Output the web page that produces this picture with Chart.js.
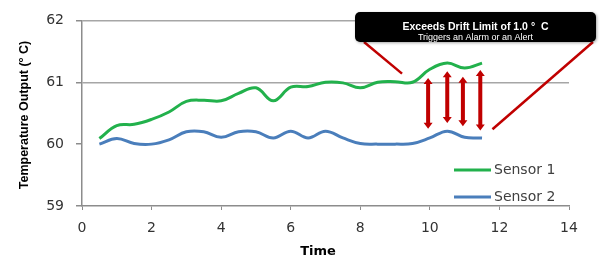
<!DOCTYPE html>
<html><head><meta charset="utf-8">
<script src="https://cdn.jsdelivr.net/npm/chart.js@4/dist/chart.umd.min.js"></script>
<style>html,body{margin:0;padding:0;background:#fff;}#wrap{width:600px;height:269px;position:relative;}</style>
</head><body><div id="wrap"><canvas id="c" width="600" height="269"></canvas></div>
<script>
// ---- data ----
const times   = [0.5,1,1.5,2,2.5,3,3.5,4,4.5,5,5.5,6,6.5,7,7.5,8,8.5,9,9.5,10,10.5,11,11.5];
const sensor1 = [60.09,60.30,60.32,60.40,60.52,60.69,60.71,60.70,60.82,60.91,60.70,60.92,60.93,61.00,60.99,60.91,61.00,61.01,61.00,61.21,61.31,61.23,61.31];
const sensor2 = [60.00,60.09,60.01,60.00,60.07,60.20,60.20,60.11,60.20,60.20,60.10,60.21,60.10,60.21,60.10,60.01,60.00,60.00,60.01,60.10,60.21,60.11,60.10];
const seriesNames = ['Sensor 1','Sensor 2'];
const xTicks = [0,2,4,6,8,10,12,14];
const yTicks = [59,60,61,62];
const yGridValues = [61,62];
const arrowTimes   = [9.95,10.5,10.95,11.45];
const arrowTops    = [61.07,61.18,61.09,61.20];
const arrowBottoms = [60.25,60.34,60.29,60.22];
const leaderEnds = [[9.2,61.14],[11.8,60.24]];
const calloutTitle = 'Exceeds Drift Limit of 1.0 °  C';
const calloutSubtitle = 'Triggers an Alarm or an Alert';
const xTitle = 'Time';
const yTitle = 'Temperature Output (° C)';

const colors = ['#22b14c','#4a7ebb'];
const RED = '#c00000';
const AXIS = '#8c8c8c';

function pts(vals){ return times.map((t,i)=>({x:t,y:vals[i]})); }

function arrow(ctx,x,y1,y2){
  const hw=4.5, hh=6, sw=2;
  ctx.beginPath();
  ctx.moveTo(x,y1); ctx.lineTo(x+hw,y1+hh); ctx.lineTo(x+sw,y1+hh);
  ctx.lineTo(x+sw,y2-hh); ctx.lineTo(x+hw,y2-hh); ctx.lineTo(x,y2);
  ctx.lineTo(x-hw,y2-hh); ctx.lineTo(x-sw,y2-hh); ctx.lineTo(x-sw,y1+hh);
  ctx.lineTo(x-hw,y1+hh); ctx.closePath(); ctx.fill();
}

const overlay = {
  id:'overlay',
  afterDatasetsDraw(chart){
    const ctx = chart.ctx, xs = chart.scales.x, ys = chart.scales.y;
    ctx.save();
    // arrows
    ctx.fillStyle = RED;
    arrowTimes.forEach((t,i)=>arrow(ctx, xs.getPixelForValue(t), ys.getPixelForValue(arrowTops[i]), ys.getPixelForValue(arrowBottoms[i])));
    // leader lines
    const box = {x:355, y:12, w:241, h:30};
    ctx.strokeStyle = RED; ctx.lineWidth = 2.5;
    const starts = [[box.x+9, box.y+box.h],[box.x+box.w-3, box.y+box.h]];
    leaderEnds.forEach((e,i)=>{
      ctx.beginPath(); ctx.moveTo(starts[i][0], starts[i][1]);
      ctx.lineTo(xs.getPixelForValue(e[0]), ys.getPixelForValue(e[1])); ctx.stroke();
    });
    // callout box
    ctx.save();
    ctx.shadowColor='rgba(0,0,0,0.35)'; ctx.shadowBlur=3; ctx.shadowOffsetX=1; ctx.shadowOffsetY=1;
    ctx.fillStyle='#000';
    ctx.beginPath(); ctx.roundRect(box.x,box.y,box.w,box.h,5); ctx.fill();
    ctx.restore();
    ctx.fillStyle='#fff'; ctx.textAlign='center'; ctx.textBaseline='alphabetic';
    ctx.font='bold 10.5px "Liberation Sans", Arial, sans-serif';
    ctx.fillText(calloutTitle, box.x+box.w/2, 30);
    ctx.font='9px "Liberation Sans", Arial, sans-serif';
    ctx.fillText(calloutSubtitle, box.x+box.w/2, 39.5);
    // legend
    ctx.textAlign='left'; ctx.textBaseline='middle';
    ctx.font='14px "DejaVu Sans", sans-serif';
    chart.data.datasets.forEach((ds,i)=>{
      const y = 170 + i*27;
      ctx.strokeStyle = ds.borderColor; ctx.lineWidth = 3;
      ctx.beginPath(); ctx.moveTo(454,y); ctx.lineTo(491,y); ctx.stroke();
      ctx.fillStyle='#404040'; ctx.fillText(ds.label, 494, y);
    });
    // axis titles
    ctx.fillStyle='#000';
    ctx.textAlign='center'; ctx.textBaseline='middle';
    ctx.font='bold 13px "DejaVu Sans", sans-serif';
    ctx.fillText(xTitle, 318, 252);
    ctx.save();
    ctx.translate(25,115); ctx.rotate(-Math.PI/2);
    ctx.font='bold 12.5px "Liberation Sans", Arial, sans-serif';
    ctx.fillText(yTitle, 0, 0);
    ctx.restore();
    ctx.restore();
  }
};

new Chart(document.getElementById('c'), {
  type:'line',
  data:{ datasets:[
    {label:seriesNames[0], data:pts(sensor1), borderColor:colors[0], borderWidth:3, pointRadius:0, tension:0.4, fill:false},
    {label:seriesNames[1], data:pts(sensor2), borderColor:colors[1], borderWidth:3, pointRadius:0, tension:0.4, fill:false}
  ]},
  options:{
    responsive:false, animation:false, devicePixelRatio:1,
    layout:{padding:{left:0,right:31,top:19,bottom:0}},
    plugins:{legend:{display:false}, tooltip:{enabled:false}},
    scales:{
      x:{type:'linear', min:0, max:14,
        afterBuildTicks:s=>{s.ticks = xTicks.map(v=>({value:v}));},
        afterFit:s=>{s.height=63;},
        grid:{color:'transparent', tickColor:AXIS, tickLength:4},
        border:{color:AXIS, width:1.5},
        ticks:{padding:10, color:'#333', font:{family:'DejaVu Sans', size:14}, maxRotation:0, autoSkip:false}},
      y:{type:'linear', min:59, max:62,
        afterBuildTicks:s=>{s.ticks = yTicks.map(v=>({value:v}));},
        afterFit:s=>{s.width=82;},
        grid:{color:ctx=> (ctx.tick && yGridValues.includes(ctx.tick.value)) ? '#a6a6a6' : 'transparent', lineWidth:1.5, tickColor:AXIS, tickLength:6},
        border:{color:AXIS, width:1.5},
        ticks:{padding:12, color:'#333', font:{family:'DejaVu Sans', size:14}}}
    }
  },
  plugins:[overlay]
});
</script></body></html>
